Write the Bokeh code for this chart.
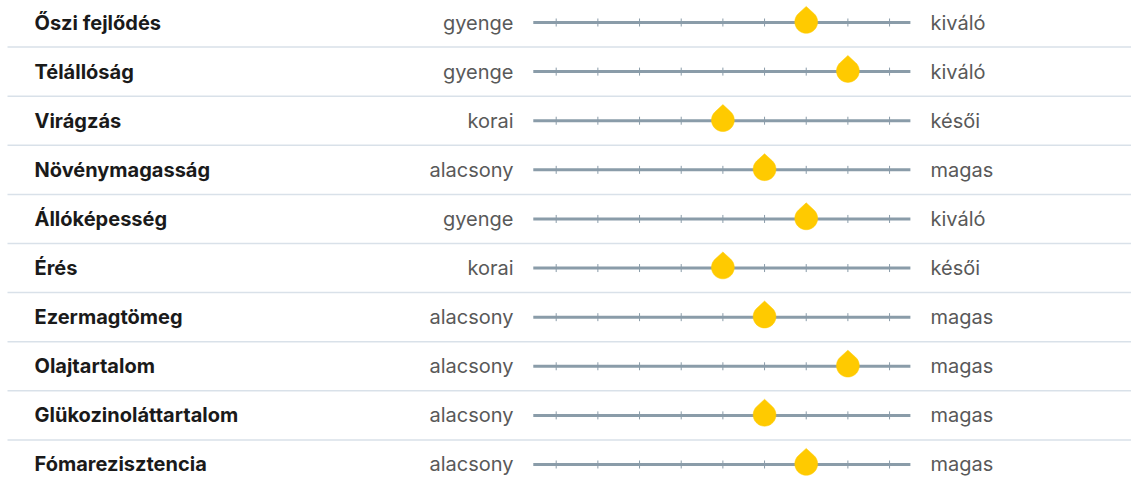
import math
from bokeh.plotting import figure
from bokeh.models import Range1d
from bokeh.core.properties import value
from bokeh.embed import file_html
from bokeh.resources import INLINE

# ---- data ----
traits = ["Őszi fejlődés", "Télállóság", "Virágzás", "Növénymagasság", "Állóképesség",
          "Érés", "Ezermagtömeg", "Olajtartalom", "Glükozinoláttartalom", "Fómarezisztencia"]
low_labels = ["gyenge", "gyenge", "korai", "alacsony", "gyenge",
              "korai", "alacsony", "alacsony", "alacsony", "alacsony"]
high_labels = ["kiváló", "kiváló", "késői", "magas", "kiváló",
               "késői", "magas", "magas", "magas", "magas"]
scores = [7, 8, 5, 6, 7, 5, 6, 8, 6, 7]
scale_ticks = [1, 2, 3, 4, 5, 6, 7, 8, 9]

# ---- layout ----
W, H = 1131, 483
PX_PER_X = 41.67      # pixels per scale step
PX_PER_Y = 49.11      # pixels per row
X0_PX = 555.7         # pixel position of scale value 1
Y0_PX = 22.0          # pixel position of row 0

def xv(px):
    return 1 + (px - X0_PX) / PX_PER_X

x_start = xv(0)
x_end = xv(W)
y_top = -Y0_PX / PX_PER_Y
y_bot = (H - Y0_PX) / PX_PER_Y

p = figure(width=W, height=H, output_backend="svg", toolbar_location=None,
           x_range=Range1d(x_start, x_end), y_range=Range1d(y_bot, y_top),
           min_border=0, outline_line_color=None, background_fill_color="white",
           border_fill_color="white")
p.axis.visible = False
p.grid.visible = False

rows = list(range(len(traits)))

# separators
p.segment(x0=[xv(7)] * (len(rows) - 1), x1=[xv(W)] * (len(rows) - 1),
          y0=[i + 0.5 for i in rows[:-1]], y1=[i + 0.5 for i in rows[:-1]],
          line_color="#d9e1e9", line_width=1.5)

# scale lines
p.segment(x0=[0.45] * len(rows), x1=[9.5] * len(rows), y0=rows, y1=rows,
          line_color="#8a9ca9", line_width=3)

# ticks
tx, ty = [], []
for i in rows:
    for t in scale_ticks:
        tx.append(t)
        ty.append(i)
tick_half = 4.0 / PX_PER_Y
p.segment(x0=tx, x1=tx, y0=[y - tick_half for y in ty], y1=[y + tick_half for y in ty],
          line_color="#8a9ca9", line_width=1)

# drop markers
r = 11.4
d = 15.5
phi = math.acos(r / d)
shape = [(0.0, -d)]
start = -math.pi / 2 + phi
end = 3 * math.pi / 2 - phi
n = 40
for k in range(n + 1):
    a = start + (end - start) * k / n
    shape.append((r * math.cos(a), r * math.sin(a)))
xs, ys = [], []
for s, i in zip(scores, rows):
    xs.append([s + sx / PX_PER_X for sx, sy in shape])
    ys.append([i - 0.6 / PX_PER_Y + sy / PX_PER_Y for sx, sy in shape])
p.patches(xs=xs, ys=ys, fill_color="#ffca00", line_color="#ffca00", line_width=0.5)

# texts
p.text(x=[xv(34)] * len(rows), y=rows, text=traits,
       text_font=value("Inter"), text_font_style="bold",
       text_font_size="20px", text_color="#1a1a1a",
       text_baseline="middle", text_align="left")
p.text(x=[xv(513)] * len(rows), y=rows, text=low_labels,
       text_font=value("Inter"), text_font_size="20px", text_color="#595959",
       text_baseline="middle", text_align="right")
p.text(x=[xv(930)] * len(rows), y=rows, text=high_labels,
       text_font=value("Inter"), text_font_size="20px", text_color="#595959",
       text_baseline="middle", text_align="left")

open("out.html", "w").write(file_html(p, INLINE))
